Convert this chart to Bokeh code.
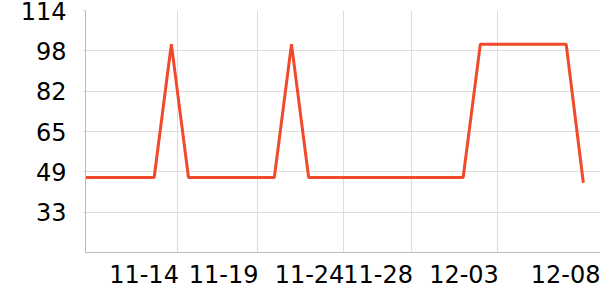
from bokeh.plotting import figure
from bokeh.models import Range1d, FixedTicker
from bokeh.embed import file_html
from bokeh.resources import INLINE

# data: one point per day
x_idx = list(range(30))
values = [46.6, 46.6, 46.6, 46.6, 46.6, 100.5, 46.6, 46.6, 46.6, 46.6,
          46.6, 46.6, 100.5, 46.6, 46.6, 46.6, 46.6, 46.6, 46.6, 46.6,
          46.6, 46.6, 46.6, 100.5, 100.5, 100.5, 100.5, 100.5, 100.5, 44.5]
x_tick_pos = [5.36, 10, 15, 19, 24, 30]
x_tick_labels = ["11-14", "11-19", "11-24", "11-28", "12-03", "12-08"]
y_tick_pos = [32.6, 48.9, 65.2, 81.5, 97.8, 114.1]
y_tick_labels = ["33", "49", "65", "82", "98", "114"]

# labels sit to the left of their grid line (right-aligned)
LABEL_SHIFT = 1.95
x_label_pos = [t - LABEL_SHIFT for t in x_tick_pos]

p = figure(width=600, height=300, output_backend="svg", toolbar_location=None,
           x_range=Range1d(0, 30), y_range=Range1d(16.3, 114.1),
           min_border_left=85, min_border_right=0, min_border_top=10, min_border_bottom=48)
p.outline_line_color = None
p.background_fill_color = "white"
p.border_fill_color = "white"

p.line(x_idx, values, line_color="#f04a2b", line_width=3)

FONT = "DejaVu Sans"
p.xaxis.ticker = FixedTicker(ticks=x_label_pos)
p.xaxis.major_label_overrides = {t: l for t, l in zip(x_label_pos, x_tick_labels)}
p.xgrid.ticker = FixedTicker(ticks=x_tick_pos)
p.yaxis.ticker = FixedTicker(ticks=y_tick_pos)
p.yaxis.major_label_overrides = {t: l for t, l in zip(y_tick_pos, y_tick_labels)}

for ax in (p.xaxis[0], p.yaxis[0]):
    ax.axis_line_color = "#bbbbbb"
    ax.major_tick_line_color = "#cccccc"
    ax.major_tick_in = 0
    ax.major_tick_out = 2
    ax.minor_tick_line_color = None
    ax.major_label_text_font = FONT
    ax.major_label_text_font_size = "24px"
    ax.major_label_text_color = "black"

p.xaxis.major_tick_line_color = None
p.xaxis.major_label_standoff = 10
p.yaxis.major_label_text_align = "center"
p.yaxis.major_label_standoff = 17

p.grid.grid_line_color = "#dddddd"
p.grid.grid_line_width = 1

open("out.html", "w").write(file_html(p, INLINE))
